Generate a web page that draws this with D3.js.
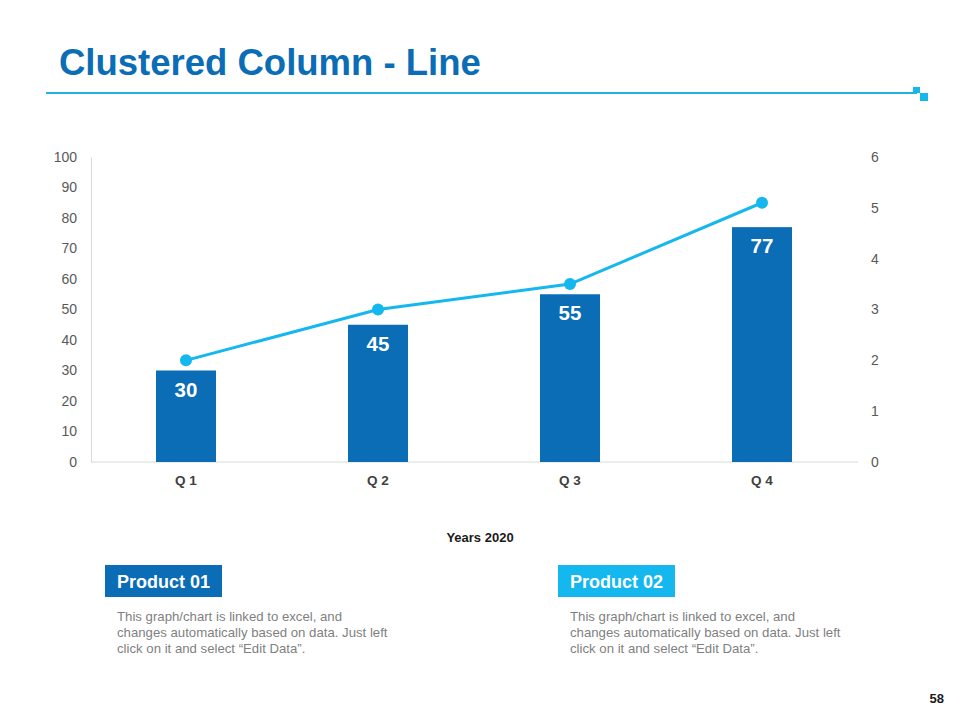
<!DOCTYPE html>
<html>
<head>
<meta charset="utf-8">
<script src="https://cdn.jsdelivr.net/npm/d3@7"></script>
<style>
  body { margin: 0; background: #fff; }
  svg { font-family: "Liberation Sans", Arial, sans-serif; }
</style>
</head>
<body>
<div id="chart"></div>
<script>
const quarters = ["Q 1", "Q 2", "Q 3", "Q 4"]
const columnValues = [30, 45, 55, 77]
const lineValues = [2, 3, 3.5, 5.1]
const leftTicks = [0, 10, 20, 30, 40, 50, 60, 70, 80, 90, 100]
const rightTicks = [0, 1, 2, 3, 4, 5, 6]
const products = ["Product 01", "Product 02"]
const blurb = ["This graph/chart is linked to excel, and",
               "changes automatically based on data. Just left",
               "click on it and select \u201cEdit Data\u201d."]

const width = 960, height = 720
const dark = "#0a6db5", light = "#14b7ee"
const fontFam = "Liberation Sans, Arial, sans-serif"

const svg = d3.select("#chart")
    .append("svg")
        .attr("width", width)
        .attr("height", height)

// header
svg.append("text")
    .attr("x", 59)
    .attr("y", 75)
    .attr("font-size", 36.5)
    .attr("font-weight", "bold")
    .attr("fill", dark)
    .text("Clustered Column - Line")

svg.append("line")
    .attr("x1", 46).attr("x2", 917)
    .attr("y1", 93).attr("y2", 93)
    .attr("stroke", "#1fb3e5")
    .attr("stroke-width", 2)
svg.append("rect").attr("x", 913).attr("y", 87).attr("width", 7).attr("height", 6).attr("fill", light)
svg.append("rect").attr("x", 920).attr("y", 93).attr("width", 8).attr("height", 8).attr("fill", light)

// chart
const x = d3.scaleBand()
    .domain(quarters)
    .range([90, 858])
    .paddingInner(0.6875)
    .paddingOuter(0.34375)

const y = d3.scaleLinear().domain([0, 100]).range([462, 157])
const y2 = d3.scaleLinear().domain([0, 6]).range([462, 157])

svg.append("g")
    .attr("transform", "translate(91,0)")
    .call(d3.axisLeft(y).tickValues(leftTicks).tickSize(0).tickPadding(14))
    .call(g => g.select(".domain").attr("stroke", "#d9d9d9"))
    .call(g => g.selectAll("text").attr("font-size", 14).attr("fill", "#595959")
        .attr("font-family", fontFam))

svg.append("g")
    .attr("transform", "translate(858,0)")
    .call(d3.axisRight(y2).tickValues(rightTicks).tickFormat(d3.format("d")).tickSize(0).tickPadding(13))
    .call(g => g.select(".domain").remove())
    .call(g => g.selectAll("text").attr("font-size", 14).attr("fill", "#595959")
        .attr("font-family", fontFam))

svg.append("line")
    .attr("x1", 91).attr("x2", 858)
    .attr("y1", y(0)).attr("y2", y(0))
    .attr("stroke", "#d9d9d9")

svg.append("g")
    .selectAll("rect")
    .data(columnValues)
    .join("rect")
        .attr("x", (d, i) => x(quarters[i]))
        .attr("y", d => y(d))
        .attr("width", x.bandwidth())
        .attr("height", d => y(0) - y(d))
        .attr("fill", dark)

svg.append("g")
    .selectAll("text")
    .data(columnValues)
    .join("text")
        .attr("x", (d, i) => x(quarters[i]) + x.bandwidth() / 2)
        .attr("y", d => y(d) + 26)
        .attr("text-anchor", "middle")
        .attr("font-size", 20.5)
        .attr("font-weight", "bold")
        .attr("fill", "#fff")
        .text(d => d)

const cx = i => x(quarters[i]) + x.bandwidth() / 2

svg.append("path")
    .datum(lineValues)
    .attr("d", d3.line().x((d, i) => cx(i)).y(d => y2(d)))
    .attr("fill", "none")
    .attr("stroke", light)
    .attr("stroke-width", 3)

svg.append("g")
    .selectAll("circle")
    .data(lineValues)
    .join("circle")
        .attr("cx", (d, i) => cx(i))
        .attr("cy", d => y2(d))
        .attr("r", 6)
        .attr("fill", light)

svg.append("g")
    .selectAll("text")
    .data(quarters)
    .join("text")
        .attr("x", d => x(d) + x.bandwidth() / 2)
        .attr("y", 485)
        .attr("text-anchor", "middle")
        .attr("font-size", 13.5)
        .attr("font-weight", "bold")
        .attr("fill", "#404040")
        .text(d => d)

svg.append("text")
    .attr("x", 480)
    .attr("y", 542)
    .attr("text-anchor", "middle")
    .attr("font-size", 13)
    .attr("font-weight", "bold")
    .attr("fill", "#1a1a1a")
    .text("Years 2020")

// product boxes
const boxX = [105, 558]
const boxColor = [dark, light]
products.forEach((p, i) => {
    svg.append("rect")
        .attr("x", boxX[i]).attr("y", 565)
        .attr("width", 117).attr("height", 32)
        .attr("fill", boxColor[i])
    svg.append("text")
        .attr("x", boxX[i] + 58.5).attr("y", 588)
        .attr("text-anchor", "middle")
        .attr("font-size", 18)
        .attr("font-weight", "bold")
        .attr("fill", "#fff")
        .text(p)
    svg.append("g")
        .selectAll("text")
        .data(blurb)
        .join("text")
            .attr("x", boxX[i] + 12)
            .attr("y", (d, j) => 621 + j * 16)
            .attr("font-size", 13.2)
            .attr("fill", "#7f7f7f")
            .text(d => d)
})

svg.append("text")
    .attr("x", 944).attr("y", 703)
    .attr("text-anchor", "end")
    .attr("font-size", 13)
    .attr("font-weight", "bold")
    .attr("fill", "#1a1a1a")
    .text("58")
</script>
</body>
</html>
